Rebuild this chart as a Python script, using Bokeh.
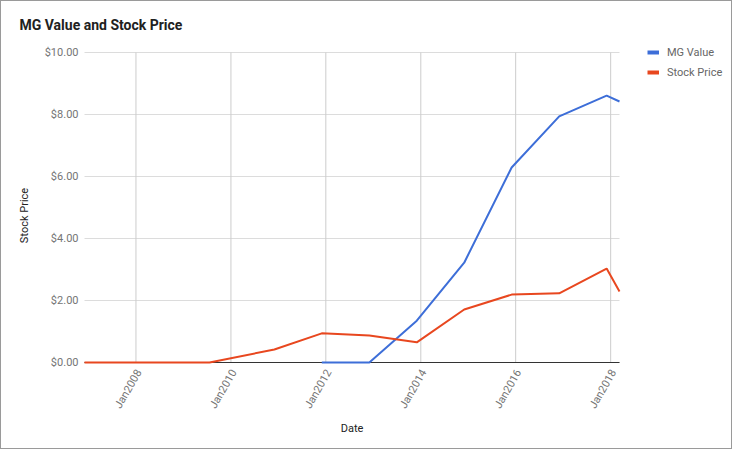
import numpy as np
import pandas as pd
from bokeh.plotting import figure
from bokeh.models import Range1d, Label, Legend, LegendItem
from bokeh.core.properties import value
from bokeh.embed import file_html
from bokeh.resources import INLINE

# ---- data ----
title_text = "MG Value and Stock Price"
x_title = "Date"
y_title = "Stock Price"
series_names = ["MG Value", "Stock Price"]
mg_dates = ["2011-12-01", "2012-12-01", "2013-12-01", "2014-12-01", "2015-12-01",
            "2016-12-01", "2017-12-01", "2018-03-10"]
mg_values = [0.0, 0.0, 1.35, 3.22, 6.29, 7.94, 8.61, 8.42]
price_dates = ["2006-12-01", "2007-12-01", "2008-12-01", "2009-07-20", "2010-12-01",
               "2011-12-01", "2012-12-01", "2013-12-01", "2014-12-01", "2015-12-01",
               "2016-12-01", "2017-12-01", "2018-03-10"]
price_values = [0.0, 0.0, 0.0, 0.0, 0.42, 0.94, 0.87, 0.65, 1.71, 2.19, 2.23, 3.03, 2.29]
x_tick_dates = ["2008-01-01", "2010-01-01", "2012-01-01", "2014-01-01", "2016-01-01", "2018-01-01"]
x_tick_labels = ["Jan2008", "Jan2010", "Jan2012", "Jan2014", "Jan2016", "Jan2018"]
y_ticks = [0, 2, 4, 6, 8, 10]
y_tick_labels = ["$0.00", "$2.00", "$4.00", "$6.00", "$8.00", "$10.00"]

BLUE = "#3d6ed8"
RED = "#e8471f"
FONT = value("Roboto")

# ---- layout (pixels of the canvas) ----
W, H = 732, 449
PLOT_L, PLOT_R = 83, 618      # chart area left / right
PLOT_T, PLOT_B = 51, 361      # chart area top / bottom

def ms(dates):
    return np.array([pd.Timestamp(d).value / 1e6 for d in dates])

mg_x = ms(mg_dates)
pr_x = ms(price_dates)
tick_x = ms(x_tick_dates)
x0, x1 = pr_x.min(), pr_x.max()
y0, y1 = min(y_ticks), max(y_ticks)

kx = (x1 - x0) / (PLOT_R - PLOT_L)
ky = (y1 - y0) / (PLOT_B - PLOT_T)
x_range = Range1d(x0 - PLOT_L * kx, x0 + (W - PLOT_L) * kx)
y_range = Range1d(y0 - (H - PLOT_B) * ky, y0 + PLOT_B * ky)

p = figure(width=W, height=H, title=None, output_backend="svg", toolbar_location=None,
           x_range=x_range, y_range=y_range, x_axis_location=None, y_axis_location=None,
           min_border=0)
p.styles = {"border": "1px solid #9a9a9a"}
p.xgrid.visible = False
p.ygrid.visible = False
p.outline_line_color = None
p.background_fill_color = "white"
p.border_fill_color = "white"

# grid lines
p.segment(x0=[x0] * len(y_ticks), x1=[x1] * len(y_ticks), y0=y_ticks, y1=y_ticks,
          line_color="#dcdcdc", line_width=1)
p.segment(x0=tick_x, x1=tick_x, y0=[y0] * len(tick_x), y1=[y1] * len(tick_x),
          line_color="#cccccc", line_width=1)
# baseline
p.segment(x0=[x0], x1=[x1], y0=[y0], y1=[y0], line_color="#333333", line_width=1)

# series
p.line(mg_x, mg_values, line_color=BLUE, line_width=2)
p.line(pr_x, price_values, line_color=RED, line_width=2)

# tick labels
p.text(x=[x0] * len(y_ticks), y=y_ticks, text=y_tick_labels, x_offset=-6,
       text_align="right", text_baseline="middle", text_font=FONT,
       text_font_size="11px", text_color="#757575")
p.text(x=tick_x, y=[y0] * len(tick_x), text=x_tick_labels, angle=np.pi / 3,
       x_offset=3, y_offset=8, text_align="right", text_baseline="middle",
       text_font=FONT, text_font_size="11px", text_color="#757575")

# titles
p.add_layout(Label(x=18, y=H - 23, x_units="screen", y_units="screen", text=title_text,
                   text_font="Roboto", text_font_size="14px", text_font_style="bold",
                   text_color="#212121", text_baseline="alphabetic"))
p.add_layout(Label(x=(PLOT_L + PLOT_R) / 2, y=H - 427, x_units="screen", y_units="screen",
                   text=x_title, text_align="center", text_baseline="middle",
                   text_font="Roboto", text_font_size="11px", text_color="#222222"))
p.add_layout(Label(x=23, y=H - 214, x_units="screen", y_units="screen", angle=np.pi / 2,
                   text=y_title, text_align="center", text_baseline="middle",
                   text_font="Roboto", text_font_size="11px", text_color="#222222"))

# legend
d1 = p.line([np.nan], [np.nan], line_color=BLUE, line_width=4)
d2 = p.line([np.nan], [np.nan], line_color=RED, line_width=4)
legend = Legend(items=[LegendItem(label=series_names[0], renderers=[d1]),
                       LegendItem(label=series_names[1], renderers=[d2])],
                location=(646, H - 81), padding=0, margin=0, spacing=0,
                glyph_width=12, glyph_height=20, label_height=20, label_standoff=8,
                label_text_font="Roboto", label_text_font_size="11px", label_text_color="#666666",
                border_line_alpha=0, background_fill_alpha=0)
p.add_layout(legend)

open("out.html", "w").write(file_html(p, INLINE))
